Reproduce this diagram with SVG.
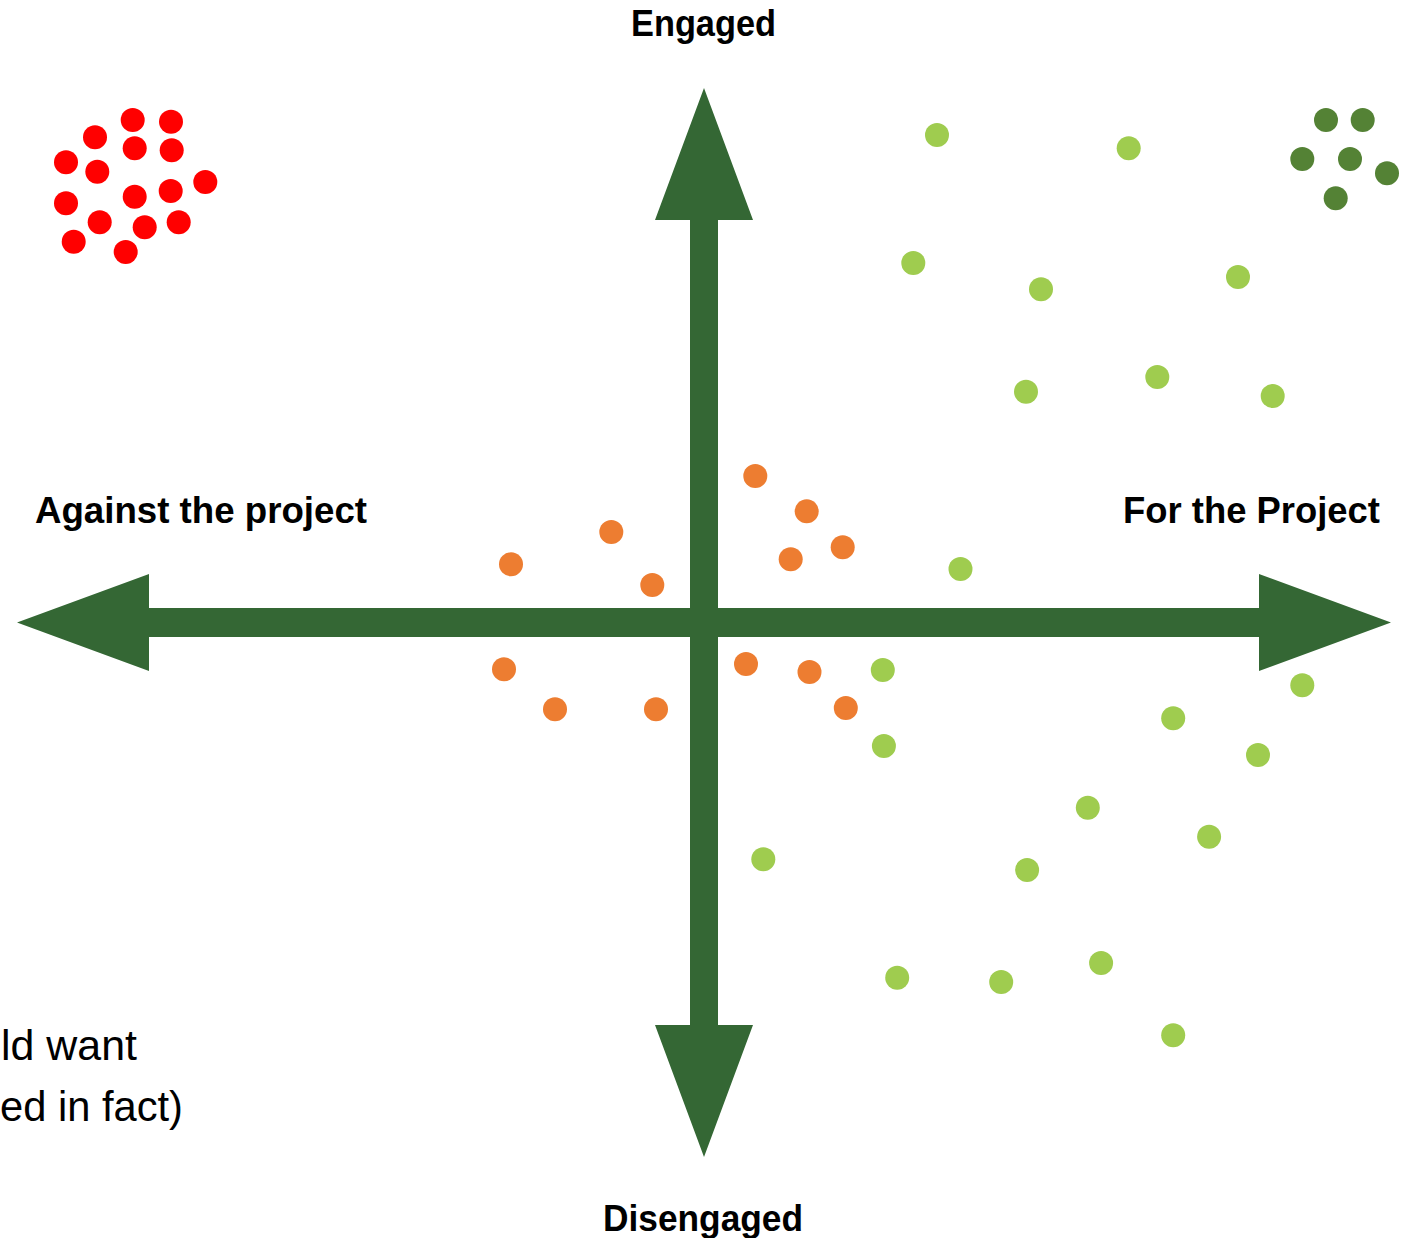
<svg xmlns="http://www.w3.org/2000/svg" width="1417" height="1238" viewBox="0 0 1417 1238">
<style>
.axis{fill:#346734}
.lbl{font-family:"Liberation Sans",Arial,sans-serif;font-weight:bold;font-size:36px;fill:#000}
.note{font-family:"Liberation Sans",Arial,sans-serif;font-size:42px;fill:#000}
.red circle{fill:#FF0000}
.org circle{fill:#ED7D31}
.lg circle{fill:#9FCC4F}
.dg circle{fill:#548235}
</style>
<rect width="1417" height="1238" fill="#fff"/>
<g id="connectors">
<polygon id="axis-h" class="axis" points="17,622.5 149,574 149,608 1259,608 1259,574 1391,622.5 1259,671 1259,637 149,637 149,671"/>
<polygon id="axis-v" class="axis" points="704,88 753,220 718,220 718,1025 753,1025 704,1157 655,1025 690,1025 690,220 655,220"/>
</g>
<g id="label-engaged"><text class="lbl" x="631" y="36" textLength="145" lengthAdjust="spacingAndGlyphs">Engaged</text></g>
<g id="label-disengaged"><text class="lbl" x="603" y="1231" textLength="200" lengthAdjust="spacingAndGlyphs">Disengaged</text></g>
<g id="label-against"><text class="lbl" x="35" y="523" textLength="332" lengthAdjust="spacingAndGlyphs">Against the project</text></g>
<g id="label-for"><text class="lbl" x="1123" y="523" textLength="257" lengthAdjust="spacingAndGlyphs">For the Project</text></g>
<g id="note">
<text class="note" x="1" y="1060" textLength="136" lengthAdjust="spacingAndGlyphs">ld want</text>
<text class="note" x="0" y="1121" textLength="183" lengthAdjust="spacingAndGlyphs">ed in fact)</text>
</g>
<g id="red-dots" class="red">
<circle cx="132.7" cy="120" r="12"/>
<circle cx="171" cy="121.7" r="12"/>
<circle cx="95" cy="137.3" r="12"/>
<circle cx="134.7" cy="148.3" r="12"/>
<circle cx="171.7" cy="150.3" r="12"/>
<circle cx="66" cy="162.3" r="12"/>
<circle cx="97.3" cy="171.7" r="12"/>
<circle cx="205.3" cy="182" r="12"/>
<circle cx="134.7" cy="196.7" r="12"/>
<circle cx="170.7" cy="191" r="12"/>
<circle cx="66" cy="203.3" r="12"/>
<circle cx="99.7" cy="222.3" r="12"/>
<circle cx="144.7" cy="227.3" r="12"/>
<circle cx="178.7" cy="222.3" r="12"/>
<circle cx="73.7" cy="241.7" r="12"/>
<circle cx="125.7" cy="252" r="12"/>
</g>
<g id="darkgreen-dots" class="dg">
<circle cx="1326" cy="120" r="12"/>
<circle cx="1362.7" cy="120" r="12"/>
<circle cx="1302.3" cy="159" r="12"/>
<circle cx="1350" cy="159" r="12"/>
<circle cx="1387" cy="173.3" r="12"/>
<circle cx="1335.7" cy="198.3" r="12"/>
</g>
<g id="orange-dots" class="org">
<circle cx="755.3" cy="476" r="12"/>
<circle cx="806.7" cy="511.3" r="12"/>
<circle cx="611.3" cy="532" r="12"/>
<circle cx="842.7" cy="547.3" r="12"/>
<circle cx="790.7" cy="559.3" r="12"/>
<circle cx="511" cy="564.3" r="12"/>
<circle cx="652.3" cy="585" r="12"/>
<circle cx="504" cy="669.3" r="12"/>
<circle cx="746" cy="664" r="12"/>
<circle cx="809.5" cy="672" r="12"/>
<circle cx="555" cy="709.3" r="12"/>
<circle cx="656" cy="709.3" r="12"/>
<circle cx="845.8" cy="708" r="12"/>
</g>
<g id="lightgreen-dots" class="lg">
<circle cx="937" cy="135" r="12"/>
<circle cx="1128.7" cy="148.3" r="12"/>
<circle cx="913.3" cy="263" r="12"/>
<circle cx="1041" cy="289.3" r="12"/>
<circle cx="1238" cy="277" r="12"/>
<circle cx="1026" cy="391.7" r="12"/>
<circle cx="1157.3" cy="377" r="12"/>
<circle cx="1272.7" cy="396" r="12"/>
<circle cx="960.5" cy="569" r="12"/>
<circle cx="882.8" cy="670" r="12"/>
<circle cx="883.9" cy="746" r="12"/>
<circle cx="1302.3" cy="685.3" r="12"/>
<circle cx="1173.2" cy="718.3" r="12"/>
<circle cx="1258" cy="755" r="12"/>
<circle cx="1087.8" cy="807.7" r="12"/>
<circle cx="1209.1" cy="836.7" r="12"/>
<circle cx="763.3" cy="859.3" r="12"/>
<circle cx="1027.1" cy="870" r="12"/>
<circle cx="897.2" cy="977.7" r="12"/>
<circle cx="1001.2" cy="982" r="12"/>
<circle cx="1101.1" cy="963" r="12"/>
<circle cx="1173.2" cy="1035.3" r="12"/>
</g>
</svg>
